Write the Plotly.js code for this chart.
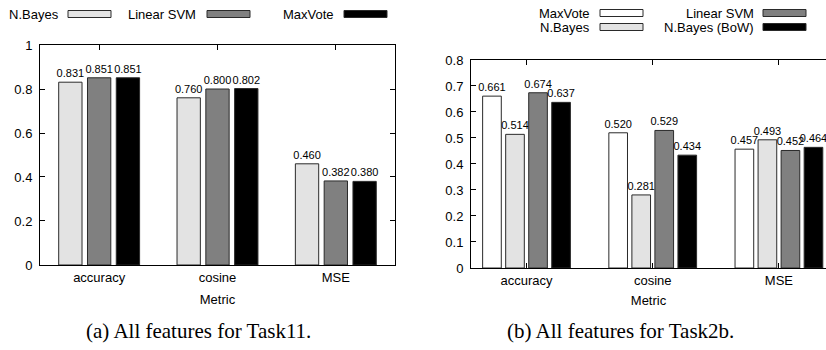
<!DOCTYPE html>
<html>
<head>
<meta charset="utf-8">
<script src="https://cdn.plot.ly/plotly-3.0.1.min.js"></script>
<style>html,body{margin:0;padding:0;background:#fff;}#chart{width:826px;height:350px;}</style>
</head>
<body>
<div id="chart"></div>
<script>
// ---- data ----
const categories = ['accuracy', 'cosine', 'MSE'];
// (a) Task11
const nbayesA  = [0.831, 0.760, 0.460];
const svmA     = [0.851, 0.800, 0.382];
const maxvoteA = [0.851, 0.802, 0.380];
// (b) Task2b
const maxvoteB = [0.661, 0.520, 0.457];
const nbayesB  = [0.514, 0.281, 0.493];
const svmB     = [0.674, 0.529, 0.452];
const bowB     = [0.637, 0.434, 0.464];
const yTicksA = [0, 0.2, 0.4, 0.6, 0.8, 1];
const yTicksB = [0, 0.1, 0.2, 0.3, 0.4, 0.5, 0.6, 0.7, 0.8];
const legendA = ['N.Bayes', 'Linear SVM', 'MaxVote'];
const legendB = ['MaxVote', 'N.Bayes', 'Linear SVM', 'N.Bayes (BoW)'];
const captionA = '(a) All features for Task11.';
const captionB = '(b) All features for Task2b.';
const axisTitle = 'Metric';

// ---- styles ----
const SANS = 'Liberation Sans, Arial, Helvetica, sans-serif';
const SERIF = 'Liberation Serif, Times New Roman, serif';
const C_LIGHT = '#e3e3e3', C_GRAY = '#808080', C_BLACK = '#000000', C_WHITE = '#ffffff';
const OUT = '#2a2a2a';

function barTrace(y, color, xa, ya) {
  return {
    type: 'bar', x: categories, y: y, xaxis: xa, yaxis: ya,
    marker: {color: color, line: {color: OUT, width: 1}},
    texttemplate: '%{y:.3f}', textposition: 'outside', constraintext: 'none',
    cliponaxis: false,
    textfont: {family: SANS, size: 11, color: '#000'},
    hoverinfo: 'skip', showlegend: false
  };
}

const data = [
  barTrace(nbayesA, C_LIGHT, 'x', 'y'),
  barTrace(svmA, C_GRAY, 'x', 'y'),
  barTrace(maxvoteA, C_BLACK, 'x', 'y'),
  barTrace(maxvoteB, C_WHITE, 'x2', 'y2'),
  barTrace(nbayesB, C_LIGHT, 'x2', 'y2'),
  barTrace(svmB, C_GRAY, 'x2', 'y2'),
  barTrace(bowB, C_BLACK, 'x2', 'y2')
];

const xBase = {
  type: 'category', showline: true, linecolor: '#000', linewidth: 1,
  mirror: 'allticks', ticks: 'inside', ticklen: 5, tickcolor: '#000',
  showgrid: false, zeroline: false, layer: 'below traces',
  tickfont: {family: SANS, size: 13, color: '#000'}, fixedrange: true
};
const yBase = {
  showline: true, linecolor: '#000', linewidth: 1,
  ticks: 'inside', ticklen: 5, tickcolor: '#000',
  showgrid: false, zeroline: false, ticklabelstandoff: 4,
  tickfont: {family: SANS, size: 13, color: '#000'}, fixedrange: true
};

const layout = {
  width: 826, height: 350,
  margin: {l: 0, r: 0, t: 0, b: 0},
  paper_bgcolor: '#fff', plot_bgcolor: '#fff',
  barmode: 'group', bargap: 0.27, bargroupgap: 0.19,
  font: {family: SANS, size: 13, color: '#000'},
  xaxis: Object.assign({}, xBase, {domain: [0.0484, 0.4782], anchor: 'y', range: [-0.5, 2.5],
    title: {text: axisTitle, font: {family: SANS, size: 13, color: '#000'}, standoff: 11}}),
  yaxis: Object.assign({}, yBase, {domain: [0.2429, 0.8714], anchor: 'x', range: [0, 1],
    tickvals: yTicksA, mirror: 'allticks'}),
  xaxis2: Object.assign({}, xBase, {domain: [0.5702, 1.0], anchor: 'y2', range: [-0.44, 2.373],
    title: {text: axisTitle, font: {family: SANS, size: 13, color: '#000'}, standoff: 9}}),
  yaxis2: Object.assign({}, yBase, {domain: [0.2343, 0.8286], anchor: 'x2', range: [0, 0.8],
    tickvals: yTicksB, mirror: false}),
  annotations: [],
  shapes: []
};

// ---- custom gnuplot-style legends (text left, swatch right) ----
function legendEntry(label, color, textRightPx, swLeftPx, yPx) {
  layout.annotations.push({
    xref: 'paper', yref: 'paper', x: textRightPx / 826, y: 1 - yPx / 350,
    xanchor: 'right', yanchor: 'middle', showarrow: false, text: label,
    font: {family: SANS, size: 13, color: '#000'}
  });
  layout.shapes.push({
    type: 'rect', xref: 'paper', yref: 'paper',
    x0: swLeftPx / 826, x1: (swLeftPx + 43) / 826,
    y0: 1 - (yPx + 3.5) / 350, y1: 1 - (yPx - 3.5) / 350,
    fillcolor: color, line: {color: OUT, width: 1}
  });
}
const colorsA = [C_LIGHT, C_GRAY, C_BLACK];
const legPosA = [[61, 68], [198, 207], [336, 344]];
legendA.forEach((t, i) => legendEntry(t, colorsA[i], legPosA[i][0], legPosA[i][1], 14));
const colorsB = [C_WHITE, C_LIGHT, C_GRAY, C_BLACK];
const legPosB = [[592, 600, 13], [592, 600, 27], [756, 763, 13], [756, 763, 27]];
legendB.forEach((t, i) => legendEntry(t, colorsB[i], legPosB[i][0], legPosB[i][1], legPosB[i][2]));

// ---- captions ----
layout.annotations.push({xref: 'paper', yref: 'paper', x: 198 / 826, y: 1 - 331 / 350,
  xanchor: 'center', yanchor: 'middle', showarrow: false, text: captionA,
  font: {family: SERIF, size: 21, color: '#000'}});
layout.annotations.push({xref: 'paper', yref: 'paper', x: 620 / 826, y: 1 - 331 / 350,
  xanchor: 'center', yanchor: 'middle', showarrow: false, text: captionB,
  font: {family: SERIF, size: 21, color: '#000'}});

Plotly.newPlot('chart', data, layout, {displayModeBar: false, staticPlot: true});
</script>
</body>
</html>
